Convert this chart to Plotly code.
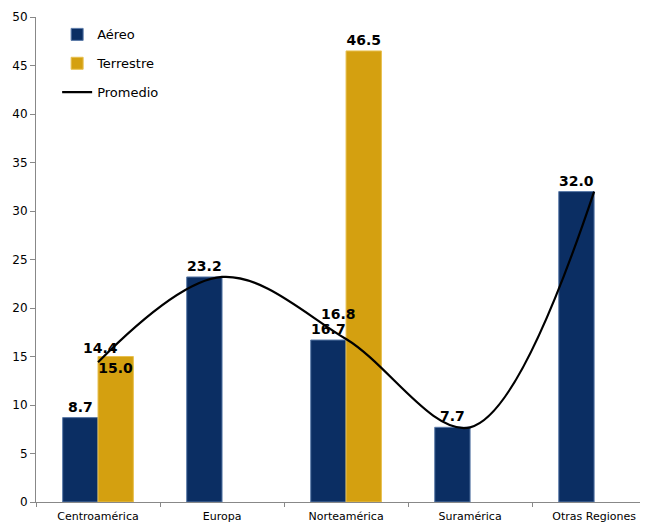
import plotly.graph_objects as go

regiones = ["Centroamérica", "Europa", "Norteamérica", "Suramérica", "Otras Regiones"]
aereo = [8.7, 23.2, 16.7, 7.7, 32.0]
terrestre = [15.0, None, 46.5, None, None]
promedio = [14.4, 23.2, 16.8, 7.7, 32.0]
# etiquetas del promedio solo donde difiere del aéreo
promedio_etiquetas = ["14.4", "", "16.8", "", ""]
promedio_desplaz = [(2, 14), (0, 0), (-8, 25), (0, 0), (0, 0)]

AZUL = "#0B2E63"
ORO = "#D4A010"
NEGRITA = dict(size=14, color="black", family="DejaVu Sans", weight="bold")

fig = go.Figure()
fig.add_trace(go.Bar(
    x=regiones, y=aereo, name="Aéreo", legendgroup="a",
    marker=dict(color=AZUL, line=dict(color="#5A7AA8", width=1)),
    text=[f"{v:.1f}" for v in aereo], textposition="outside",
    textfont=NEGRITA, cliponaxis=False,
))
fig.add_trace(go.Bar(
    x=regiones, y=terrestre, name="Terrestre", legendgroup="t",
    marker=dict(color=ORO, line=dict(color="#E8C050", width=1)),
    text=[f"{v:.1f}" if v is not None else "" for v in terrestre],
    textposition=["inside", "outside", "outside", "outside", "outside"],
    insidetextanchor="end", constraintext="none", textangle=0,
    textfont=NEGRITA, cliponaxis=False,
))
fig.add_trace(go.Scatter(
    x=regiones, y=promedio, name="Promedio", mode="lines", legendgroup="p",
    line=dict(color="black", width=2.2, shape="spline", smoothing=1.0),
    cliponaxis=False,
))

for reg, val, etq, (dx, dy) in zip(regiones, promedio, promedio_etiquetas, promedio_desplaz):
    if etq:
        fig.add_annotation(x=reg, y=val, text=f"<b>{etq}</b>", showarrow=False,
                           xshift=dx, yshift=dy, font=dict(size=14, color="black"))

# la página tiene un margen de 8 px alrededor del gráfico
fig.update_layout(
    width=647, height=514,
    margin=dict(l=28, r=15, t=9, b=20),
    plot_bgcolor="white", paper_bgcolor="white",
    font=dict(family="DejaVu Sans", color="black", size=11),
    barmode="group", bargap=0.43, bargroupgap=0,
    legend=dict(x=0.035, y=0.995, xanchor="left", yanchor="top",
                font=dict(size=13), bgcolor="rgba(0,0,0,0)",
                tracegroupgap=9, itemwidth=30),
    showlegend=True,
)
fig.update_xaxes(
    range=[-0.5, 4.37], showline=True, linecolor="#888888", linewidth=1,
    ticks="outside", tickson="boundaries", ticklen=4, tickcolor="#888888",
    tickfont=dict(size=11), showgrid=False, automargin=False,
    ticklabelstandoff=4,
)
fig.update_yaxes(
    range=[0, 50], dtick=5, showline=True, linecolor="#888888", linewidth=1,
    ticks="outside", ticklen=5, tickcolor="#888888",
    tickfont=dict(size=12), showgrid=False, zeroline=False, automargin=False,
)

fig.write_html("out.html")
